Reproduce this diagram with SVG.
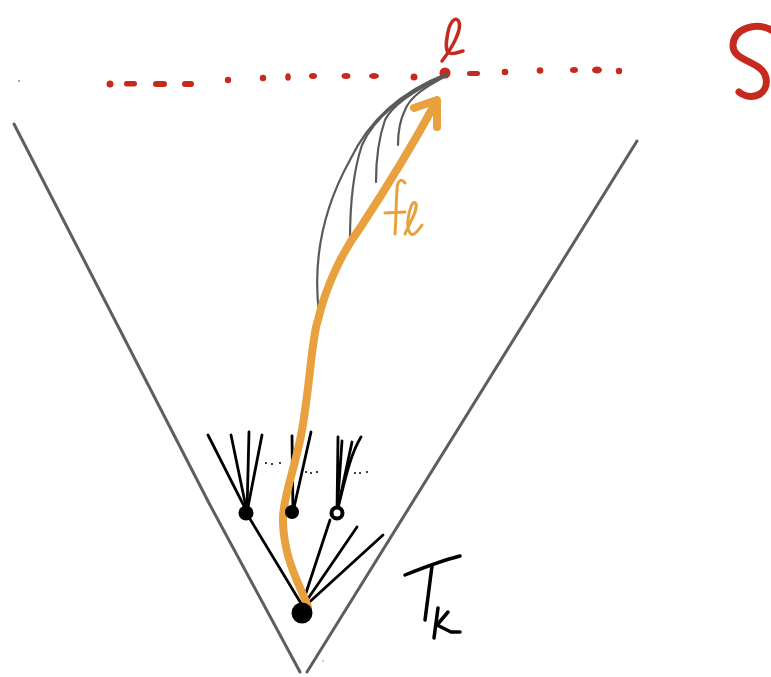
<svg xmlns="http://www.w3.org/2000/svg" width="771" height="677" viewBox="0 0 771 677">
<style>
.cone{stroke:#5e5e5e;stroke-width:3;fill:none;stroke-linecap:round}
.grey{stroke:#5a5a5a;stroke-width:2.2;fill:none;stroke-linecap:round}
.red{fill:#C62A1F}
.redst{stroke:#C62A1F;fill:none;stroke-linecap:round;stroke-linejoin:round}
.edge{stroke:#000;stroke-width:2.8;fill:none;stroke-linecap:round}
.orange{stroke:#E9A03F;fill:none;stroke-linecap:round;stroke-linejoin:round}
.ink{stroke:#000;fill:none;stroke-linecap:round;stroke-linejoin:round}
</style>
<rect width="771" height="677" fill="#fff"/>
<g id="cone">
<path class="cone" d="M14 124 L210 505 L300 672"/>
<path class="cone" d="M637 141 L307 672"/>
</g>
<g id="surface-S">
<circle cx="19" cy="81" r="1" fill="#888"/>
<circle class="red" cx="110" cy="84" r="3.5"/>
<rect class="red" x="124" y="81" width="13" height="5.5" rx="2.7"/>
<rect class="red" x="153" y="81" width="14" height="6" rx="3"/>
<rect class="red" x="182" y="81" width="12" height="6" rx="3"/>
<circle class="red" cx="228" cy="80" r="3.2"/>
<circle class="red" cx="263" cy="78" r="3.2"/>
<ellipse class="red" cx="288" cy="77" rx="2.8" ry="3.8"/>
<ellipse class="red" cx="313" cy="76" rx="4" ry="3"/>
<ellipse class="red" cx="346" cy="76" rx="4.5" ry="3"/>
<ellipse class="red" cx="374" cy="76" rx="5" ry="3"/>
<circle class="red" cx="414" cy="77" r="3.5"/>
<rect class="red" x="467" y="71" width="13" height="5" rx="2.5"/>
<circle class="red" cx="505" cy="72" r="3.3"/>
<circle class="red" cx="540" cy="70.5" r="3.3"/>
<ellipse class="red" cx="574" cy="70" rx="4" ry="3"/>
<ellipse class="red" cx="597" cy="70" rx="5" ry="3.5"/>
<circle class="red" cx="619" cy="71" r="3.2"/>
<path class="redst" stroke-width="7" d="M771 30 C756 22 734 28 733 45 C732 62 762 60 766 78 C769 94 752 102 739 92"/>
</g>
<g id="point-l">
<circle class="red" cx="445" cy="73" r="5.5"/>
<path class="redst" stroke-width="3.5" d="M442 61 C452 48 462 30 459 22 C456 15 450 22 448 32 C446 42 445 50 449 53 C453 55 458 52 463 51"/>
</g>
<g id="connectors">
<path class="grey" d="M446 74 C405 90 370 118 350 160 C325 205 312 255 319 313"/>
<path class="grey" d="M446 74 C408 92 375 115 362 145 C352 175 350 210 350 240"/>
<path class="grey" d="M446 75 C415 90 392 105 385 120 C378 140 376 160 376 182"/>
<path class="grey" d="M446 76 C425 87 410 97 405 110 C399 122 398 135 398 145"/>
<path class="edge" d="M247 514 L302 605"/>
<path class="edge" d="M302 605 L330 520"/>
<path class="edge" d="M303 606 L357 527"/>
<path class="edge" d="M304 607 L383 535"/>
<path class="edge" d="M247 512 L208 435"/>
<path class="edge" d="M247 512 L231 435"/>
<path class="edge" d="M247 512 L249 432"/>
<path class="edge" d="M247 512 L262 435"/>
<path class="edge" d="M293 512 L292 436"/>
<path class="edge" d="M293 512 L311 432"/>
<path class="edge" d="M337 512 L338 437"/>
<path class="edge" d="M337 512 L342 441"/>
<path class="edge" d="M337 512 L352 442"/>
<path class="edge" d="M337 512 C345 480 350 455 361 437"/>
<path class="orange" stroke-width="8" d="M308 607 C300 585 284 560 283 522 C282 500 296 465 302 430 C310 385 312 335 318 320 C325 290 340 255 360 228 C385 190 410 150 436 102"/>
<path class="orange" stroke-width="8" d="M414 108 L437 100 L437 127"/>
</g>
<g id="label-f">
<path class="orange" stroke-width="3" d="M405 183 C402 178 397 180 397 190 C396 205 396 220 395 234"/>
<path class="orange" stroke-width="3" d="M385 213 L405 212"/>
<path class="orange" stroke-width="3" d="M405 234 C410 222 418 210 416 204 C413 198 409 210 408 220 C407 230 410 236 414 234 C417 232 420 228 422 225"/>
</g>
<g id="root-node">
<circle cx="302" cy="613" r="10.5" fill="#000"/>
</g>
<g id="child-1">
<circle cx="246" cy="513" r="7.5" fill="#000"/>
<circle cx="266" cy="463" r="1" fill="#000"/>
<circle cx="272" cy="464" r="1" fill="#000"/>
<circle cx="280" cy="463" r="1" fill="#000"/>
</g>
<g id="child-2">
<circle cx="292" cy="512" r="7" fill="#000"/>
<circle cx="306" cy="472" r="1" fill="#000"/>
<circle cx="311" cy="473" r="1" fill="#000"/>
<circle cx="317" cy="472" r="1" fill="#000"/>
</g>
<g id="child-3">
<circle cx="337" cy="513" r="5.5" fill="#fff" stroke="#000" stroke-width="4"/>
<circle cx="355" cy="473" r="1" fill="#000"/>
<circle cx="360" cy="473" r="1" fill="#000"/>
<circle cx="367" cy="472" r="1" fill="#000"/>
</g>
<g id="label-TK">
<path class="ink" stroke-width="3.5" d="M405 575 C420 569 440 561 460 556"/>
<path class="ink" stroke-width="3.5" d="M432 566 L425 620"/>
<path class="ink" stroke-width="3.5" d="M438 608 L434 638"/>
<path class="ink" stroke-width="3.5" d="M448 612 L437 625 L451 632 L460 632"/>
<circle cx="323" cy="661" r="0.8" fill="#888"/>
</g>
</svg>
